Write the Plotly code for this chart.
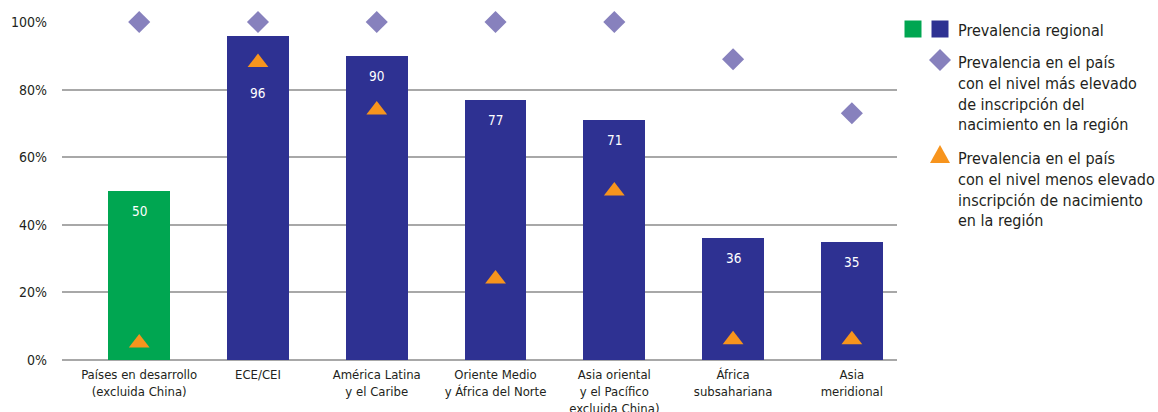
import plotly.graph_objects as go

# data
regiones = ["Países en desarrollo<br>(excluida China)", "ECE/CEI",
            "América Latina<br>y el Caribe", "Oriente Medio<br>y África del Norte",
            "Asia oriental<br>y el Pacífico<br>excluida China)", "África<br>subsahariana",
            "Asia<br>meridional"]
prev_regional = [50, 96, 90, 77, 71, 36, 35]
prev_max = [100, 100, 100, 100, 100, 89, 73]
prev_min = [5, 88, 74, 24, 50, 6, 6]
y_ticks = [0, 20, 40, 60, 80, 100]

FONT = "DejaVu Sans Condensed, Liberation Sans Narrow, sans-serif"
GREEN = "#00A651"
BLUE = "#2E3192"
LILAC = "#8781BD"
ORANGE = "#F7941D"
TXT = "#231F20"

W, H = 1158, 412
L, R, T, B = 62, 261, 22, 52
PW, PH = W - L - R, H - T - B


def px(x, y):
    # pixel -> paper
    return (x - L) / PW, (H - B - y) / PH


xs = list(range(len(regiones)))
bar_colors = [GREEN] + [BLUE] * (len(regiones) - 1)

fig = go.Figure()
fig.add_trace(go.Bar(x=xs, y=prev_regional, marker=dict(color=bar_colors, line_width=0),
                     width=0.52, showlegend=False, hoverinfo="y"))
fig.add_trace(go.Scatter(x=xs, y=prev_max, mode="markers", cliponaxis=False,
                         marker=dict(symbol="diamond", size=17, color=LILAC),
                         showlegend=False))
fig.add_trace(go.Scatter(x=xs, y=prev_min, mode="markers", cliponaxis=False,
                         marker=dict(symbol="triangle-up", size=18, color=ORANGE),
                         showlegend=False))

# value labels inside bars
for i, v in enumerate(prev_regional):
    fig.add_annotation(x=xs[i], y=v, text=str(v), showarrow=False,
                       yanchor="middle", yshift=-57 if i == 1 else -20,
                       font=dict(family=FONT, size=13.5, color="white"))

# legend, drawn by hand
def square(cx, cy, color):
    x0, y0 = px(cx - 8.5, cy + 8.5)
    x1, y1 = px(cx + 8.5, cy - 8.5)
    fig.add_shape(type="rect", xref="paper", yref="paper", x0=x0, y0=y0, x1=x1, y1=y1,
                  fillcolor=color, line_width=0)


def path(points, color):
    pts = [px(a, b) for a, b in points]
    d = "M " + " L ".join(f"{a},{b}" for a, b in pts) + " Z"
    fig.add_shape(type="path", xref="paper", yref="paper", path=d,
                  fillcolor=color, line_width=0)


square(913, 29, GREEN)
square(940, 29, BLUE)
path([(940, 49), (951, 60), (940, 71), (929, 60)], LILAC)
path([(930, 163), (950, 163), (940, 145)], ORANGE)

legend_texts = [
    (30, "Prevalencia regional"),
    (94, "Prevalencia en el país<br>con el nivel más elevado<br>de inscripción del<br>nacimiento en la región"),
    (189, "Prevalencia en el país<br>con el nivel menos elevado<br>inscripción de nacimiento<br>en la región"),
]
for yy, t in legend_texts:
    x, y = px(956, yy)
    fig.add_annotation(xref="paper", yref="paper", x=x, y=y, text=t, showarrow=False,
                       xanchor="left", yanchor="middle", align="left",
                       font=dict(family=FONT, size=16, color=TXT))

fig.update_layout(
    width=W, height=H,
    margin=dict(l=L, r=R, t=T, b=B, pad=0, autoexpand=False),
    plot_bgcolor="white", paper_bgcolor="white",
    font=dict(family=FONT, size=14, color=TXT),
    bargap=0,
)
fig.update_xaxes(tickvals=xs, ticktext=regiones, range=[-0.65, 6.38], automargin=False,
                 showgrid=False, zeroline=False, ticks="", showline=False,
                 tickfont=dict(size=13), ticklabelstandoff=5)
fig.update_yaxes(range=[0, 100], tickvals=y_ticks, ticktext=[f"{v}%" for v in y_ticks],
                 automargin=False,
                 showgrid=True, gridcolor="#A8A8A8", gridwidth=1.5,
                 zeroline=True, zerolinecolor="#A8A8A8", zerolinewidth=1.5,
                 ticks="", tickfont=dict(size=14), ticklabelstandoff=14)

fig.write_html("out.html", config={"displayModeBar": False},
               post_script="document.body.style.margin='0';")
